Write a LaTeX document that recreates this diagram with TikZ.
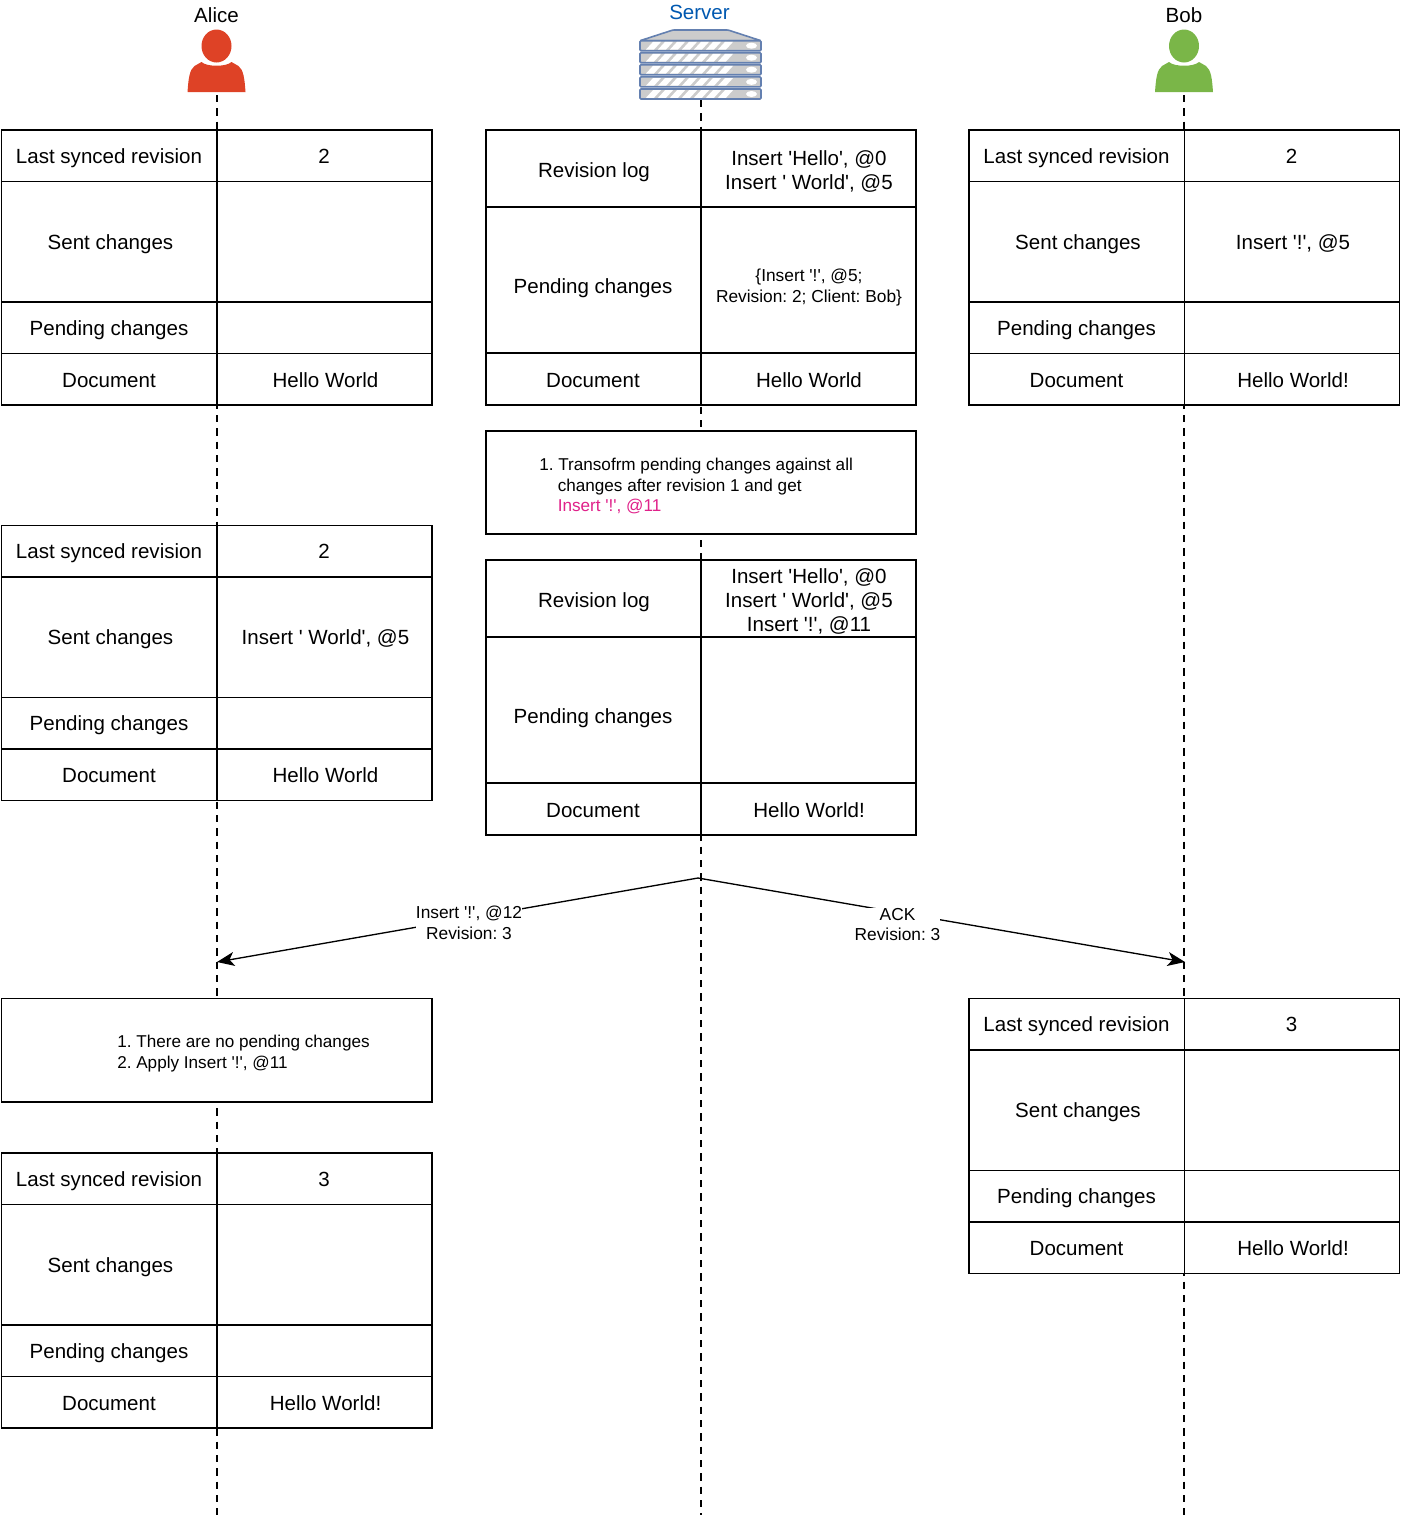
\documentclass[tikz,border=0pt]{standalone}
\usepackage{fontspec}
\setmainfont{Liberation Sans}
\usetikzlibrary{arrows.meta}
\definecolor{alicered}{HTML}{DE4226}
\definecolor{bobgreen}{HTML}{7AB648}
\definecolor{srvblue}{HTML}{6480B0}
\definecolor{srvtext}{HTML}{0058B0}
\definecolor{srvgray}{HTML}{CCCCCC}
\definecolor{pinktext}{HTML}{E0218A}
\newcommand{\qq}{\textquotesingle}
\tikzset{
  x=0.75pt,y=-0.75pt,
  every node/.append style={execute at begin node=\frenchspacing},
  cellbox/.style={draw=black,fill=white,line width=1.1pt,inner sep=0pt,outer sep=0pt},
  lbl/.style={inner sep=0pt,font=\fontsize{15.4}{18}\selectfont,text height=11pt,text depth=0pt},
  mlbl/.style={inner sep=0pt,align=center,font=\fontsize{15.4}{18}\selectfont},
  smalllbl/.style={inner sep=0pt,align=center,font=\fontsize{13}{15.6}\selectfont},
  notelbl/.style={inner sep=0pt,anchor=west,font=\fontsize{12.85}{15}\selectfont,text height=10pt,text depth=0pt},
  lifeline/.style={draw=black,line width=1pt,dash pattern=on 5.5pt off 4.5pt},
  msg/.style={draw=black,line width=1pt,-{Stealth[length=13pt,width=10.5pt,inset=3.5pt]}},
  slab/.style={draw=srvblue,fill=srvgray,line width=1.2pt,rounded corners=0.8pt},
}
\newcommand{\cellrect}[5]{%
  \pgfmathsetmacro{\cw}{0.75*(#4-#2)}\pgfmathsetmacro{\ch}{0.75*(#5-#3)}%
  \node[cellbox,minimum width=\cw pt,minimum height=\ch pt] (#1) at ({(#2+#4)/2},{(#3+#5)/2}) {};%
}
\newcommand{\clienttable}[6]{%
  \pgfmathsetmacro{\xa}{#2}\pgfmathsetmacro{\xb}{#2+215.5}\pgfmathsetmacro{\xc}{#2+430.5}%
  \pgfmathsetmacro{\ya}{#3}\pgfmathsetmacro{\yb}{#3+51.5}\pgfmathsetmacro{\yc}{#3+172}\pgfmathsetmacro{\yd}{#3+223.5}\pgfmathsetmacro{\ye}{#3+275}%
  \cellrect{#1a}{\xa}{\ya}{\xb}{\yb}\cellrect{#1b}{\xb}{\ya}{\xc}{\yb}%
  \cellrect{#1c}{\xa}{\yb}{\xb}{\yc}\cellrect{#1d}{\xb}{\yb}{\xc}{\yc}%
  \cellrect{#1e}{\xa}{\yc}{\xb}{\yd}\cellrect{#1f}{\xb}{\yc}{\xc}{\yd}%
  \cellrect{#1g}{\xa}{\yd}{\xb}{\ye}\cellrect{#1h}{\xb}{\yd}{\xc}{\ye}%
  \node[lbl] (#1ta) at ({#2+107.5},{#3+26}) {Last synced revision};%
  \node[lbl] (#1tb) at ({#2+322.5},{#3+26}) {#4};%
  \node[lbl] (#1tc) at ({#2+109},{#3+112}) {Sent changes};%
  \node[lbl] (#1td) at ({#2+324},{#3+112}) {#5};%
  \node[lbl] (#1te) at ({#2+107.5},{#3+198}) {Pending changes};%
  \node[lbl] (#1tg) at ({#2+107.5},{#3+250}) {Document};%
  \node[lbl] (#1th) at ({#2+324},{#3+250}) {#6};%
}
\newcommand{\servertable}[5]{%
  \pgfmathsetmacro{\ya}{#2}\pgfmathsetmacro{\yb}{#2+77}\pgfmathsetmacro{\yc}{#2+223}\pgfmathsetmacro{\yd}{#2+275}%
  \cellrect{#1a}{486}{\ya}{701}{\yb}\cellrect{#1b}{701}{\ya}{916}{\yb}%
  \cellrect{#1c}{486}{\yb}{701}{\yc}\cellrect{#1d}{701}{\yb}{916}{\yc}%
  \cellrect{#1e}{486}{\yc}{701}{\yd}\cellrect{#1f}{701}{\yc}{916}{\yd}%
  \node[lbl] (#1ta) at (594,{#2+40}) {Revision log};%
  \node[mlbl] (#1tb) at (809,{#2+41}) {#3};%
  \node[lbl] (#1tc) at (593,{#2+156}) {Pending changes};%
  \node[smalllbl] (#1td) at (809,{#2+157.5}) {#4};%
  \node[lbl] (#1te) at (593,{#2+250}) {Document};%
  \node[lbl] (#1tf) at (809,{#2+250}) {#5};%
}
\newcommand{\person}[2]{%
  \fill[#2] (#1,46) ellipse [x radius=15,y radius=16.5];%
  \fill[#2] ({#1-29},92) .. controls ({#1-28},78) and ({#1-27},70) .. ({#1-22},66)
     -- ({#1-15},62) .. controls ({#1-10},67) and ({#1+10},67) .. ({#1+15},62)
     -- ({#1+22},66) .. controls ({#1+27},70) and ({#1+28},78) .. ({#1+29},92) -- cycle;%
}
\newcommand{\slabat}[1]{%
  \draw[slab] (640,#1) rectangle (761,{#1+10});%
  \foreach \s in {0,1,...,6}{%
    \fill[white] ({646+\s*12},{#1+8.8}) -- ({653+\s*12},{#1+1.2}) -- ({661+\s*12},{#1+1.2}) -- ({654+\s*12},{#1+8.8}) -- cycle;%
  }%
  \fill[white] (751.5,{#1+5}) ellipse [x radius=5.5,y radius=3];%
}
\begin{document}
\begin{tikzpicture}
\useasboundingbox (0,0) rectangle (1400,1517);
\coordinate (aliceTop) at (217,95);
\coordinate (aliceEnd) at (217,1515);
\coordinate (serverTop) at (701,100);
\coordinate (serverEnd) at (701,1515);
\coordinate (bobTop) at (1184,95);
\coordinate (bobEnd) at (1184,1515);
\path[lifeline] (aliceTop) -- (aliceEnd);
\path[lifeline] (serverTop) -- (serverEnd);
\path[lifeline] (bobTop) -- (bobEnd);
\node[lbl] (aliceName) at (216.5,15) {Alice};
\node[lbl,text=srvtext] (serverName) at (699.5,12) {Server};
\node[lbl] (bobName) at (1184,15) {Bob};
\person{216.5}{alicered}
\person{1184}{bobgreen}
\draw[slab] (640,40.7) -- (673,30) -- (728,30) -- (761,40.7) -- cycle;
\slabat{40.7}\slabat{52.7}\slabat{64.7}\slabat{76.9}\slabat{89}
\clienttable{aA}{1.5}{130}{2}{}{Hello World}
\clienttable{aB}{1.5}{525.5}{2}{Insert \qq{} World\qq{}, @5}{Hello World}
\clienttable{aC}{1.5}{1153}{3}{}{Hello World!}
\clienttable{bA}{969}{130}{2}{Insert \qq{}!\qq{}, @5}{Hello World!}
\clienttable{bB}{969}{998.5}{3}{}{Hello World!}
\servertable{sA}{130}{Insert \qq{}Hello\qq{}, @0\\Insert \qq{} World\qq{}, @5}{\{Insert \qq{}!\qq{}, @5;\\Revision: 2; Client: Bob\}}{Hello World}
\cellrect{sNote}{486}{431}{916}{534}
\node[notelbl] (sN1) at (539,464) {1. Transofrm pending changes against all};
\node[notelbl] (sN2) at (557.5,484.5) {changes after revision 1 and get};
\node[notelbl,text=pinktext] (sN3) at (557.5,505) {Insert \qq{}!\qq{}, @11};
\servertable{sB}{560}{Insert \qq{}Hello\qq{}, @0\\Insert \qq{} World\qq{}, @5\\Insert \qq{}!\qq{}, @11}{}{Hello World!}
\cellrect{aNote}{1.5}{998.5}{432}{1102}
\node[notelbl] (aN1) at (117,1041) {1. There are no pending changes};
\node[notelbl] (aN2) at (117,1062) {2. Apply Insert \qq{}!\qq{}, @11};
\coordinate (fork) at (698,878);
\coordinate (aliceHit) at (217,962);
\coordinate (bobHit) at (1185,962);
\draw[msg] (fork) -- (aliceHit);
\draw[msg] (fork) -- (bobHit);
\node[smalllbl,fill=white] (msgA) at (469,923) {Insert \qq{}!\qq{}, @12\\Revision: 3};
\node[smalllbl,fill=white] (msgB) at (897.5,924.5) {ACK\\Revision: 3};
\end{tikzpicture}
\end{document}
